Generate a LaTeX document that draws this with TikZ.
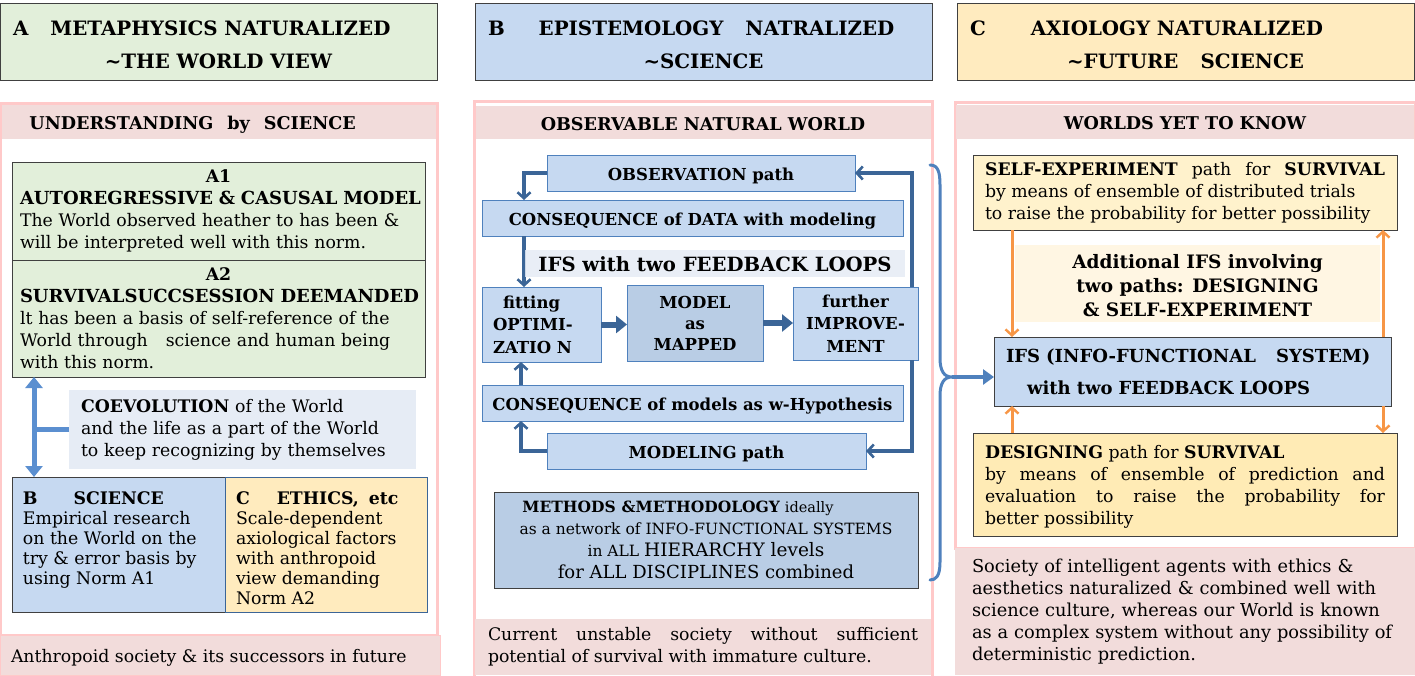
\documentclass[tikz,border=0pt]{standalone}
\usepackage{fontspec}
\setmainfont{DejaVu Serif}
\usetikzlibrary{arrows.meta,calc}
\definecolor{grn}{HTML}{E2EFDA}
\definecolor{blu}{HTML}{C6D9F1}
\definecolor{bluD}{HTML}{B9CDE5}
\definecolor{coev}{HTML}{E6ECF5}
\definecolor{ylwH}{HTML}{FFEBBF}
\definecolor{ylwE}{HTML}{FFEBBE}
\definecolor{ylwS}{HTML}{FFF2CC}
\definecolor{ylwD}{HTML}{FFEBB5}
\definecolor{ylwA}{HTML}{FFF6E3}
\definecolor{pnk}{HTML}{F2DCDB}
\definecolor{pnkB}{HTML}{FFC9C9}
\definecolor{darr}{HTML}{3B6597}
\definecolor{marr}{HTML}{5B8FD0}
\definecolor{brc}{HTML}{4F81BD}
\definecolor{org}{HTML}{F79646}
\definecolor{bdr}{HTML}{404040}
\newcommand\bodyf{\fontsize{17.3}{22}\selectfont}
\newcommand\titf{\fontsize{19.8}{33}\selectfont\bfseries}
\newcommand\bandf{\fontsize{17.6}{20}\selectfont\bfseries}
\newcommand\boxf{\fontsize{16.5}{22}\selectfont\bfseries}
\newcommand\firststrut{\rule{0pt}{21pt}}
\begin{document}
\begin{tikzpicture}[x=1pt,y=-1pt,
  every node/.style={inner sep=0pt,outer sep=0pt},
  bx/.style n args={2}{anchor=north west,minimum width=#1pt,minimum height=#2pt},
  hdr/.style={draw=bdr,line width=0.9pt,font=\titf},
  frm/.style={draw=pnkB,line width=3pt},
  band/.style={fill=pnk},
  oneline/.style={text height=15pt,text depth=0pt},
  dbox/.style={draw=bdr,line width=0.9pt},
  bbox/.style={draw=brc,line width=0.8pt,fill=blu},
  darrow/.style={draw=darr,line width=3.2pt,-{Straight Barb[length=6pt,width=13pt,line width=2.6pt]}},
  fatarrow/.style={draw=darr,line width=6pt,-{Triangle[length=11pt,width=17pt]}},
  oarrow/.style={draw=org,line width=3pt,-{Straight Barb[length=6pt,width=13pt,line width=2.4pt]}},
  coevarrow/.style={draw=marr,line width=5pt,{Triangle[length=11pt,width=17pt]}-{Triangle[length=11pt,width=17pt]}},
  brcarrow/.style={draw=brc,line width=3.5pt,-{Triangle[length=11pt,width=15pt]}}]
\useasboundingbox (0,0) rectangle (1415,675);
\fill[white] (0,0) rectangle (1415,675);

% ================= Column A =================
\node[bx={437}{77},hdr,fill=grn,text width=411pt,inner xsep=13pt,align=left] (hA) at (0,3)
  {\firststrut A\hspace{22pt}METAPHYSICS NATURALIZED\\\makebox[411pt]{\textasciitilde THE WORLD VIEW}};
\node[bx={437}{532},frm] (fA) at (0,103) {};
\node[bx={434}{34},band,font=\bandf,oneline] (bA) at (1.5,105)
  {\makebox[434pt][l]{\hspace{28pt}UNDERSTANDING\hspace{14pt}by\hspace{14pt}SCIENCE}};
\node[bx={413}{98},dbox,fill=grn,text width=397pt,inner xsep=8pt,align=left,font=\bodyf] (A1) at (12,162)
  {\makebox[397pt]{\textbf{A1}}\\\makebox[397pt][l]{\fontsize{18}{22}\selectfont\textbf{AUTOREGRESSIVE \& CASUSAL MODEL}}\\
   The World observed heather to has been \&\\will be interpreted well with this norm.};
\node[bx={413}{117},dbox,fill=grn,text width=397pt,inner xsep=8pt,align=left,font=\bodyf] (A2) at (12,260)
  {\makebox[397pt]{\textbf{A2}}\\\makebox[397pt][l]{\fontsize{18}{22}\selectfont\textbf{SURVIVALSUCCSESSION DEEMANDED}}\\
   lt has been a basis of self-reference of the\\World through\hspace{18pt}science and human being\\with this norm.};
\node[bx={347}{79},fill=coev,text width=323pt,inner xsep=12pt,align=left,font=\bodyf] (cv) at (69,390)
  {\textbf{COEVOLUTION} of the World\\and the life as a part of the World\\to keep recognizing by themselves};
\node[bx={213}{135},draw=bdr,line width=0.9pt,fill=blu] (BS) at (12,477) {};
\node[bx={202}{135},draw=darr,line width=0.9pt,fill=ylwE] (CE) at (225,477) {};
\node[anchor=north west,align=left,font={\fontsize{17.3}{20}\selectfont}] (BSt) at ($(BS.north west)+(11,15)$)
  {\textbf{B\hspace{36pt}SCIENCE}\\Empirical research\\on the World on the\\try \& error basis by\\using Norm A1};
\node[anchor=north west,align=left,font={\fontsize{17.3}{20}\selectfont}] (CEt) at ($(CE.north west)+(11,15)$)
  {\textbf{C\hspace{27pt}ETHICS,\hspace{10pt}etc}\\Scale-dependent\\axiological factors\\with anthropoid\\view demanding\\Norm A2};
\coordinate (ax) at (34,0);
\draw[coevarrow] (ax |- A2.south) -- (ax |- BS.north);
\draw[draw=marr,line width=5pt] (cv.west) -- (cv.west -| ax);
\node[bx={440}{40},band,draw=pnkB,line width=1pt,font=\bodyf,oneline] (bbA) at (0,635)
  {\makebox[440pt][l]{\hspace{11pt}Anthropoid society \& its successors in future}};

% ================= Column B =================
\node[bx={457}{77},hdr,fill=blu,text width=431pt,inner xsep=13pt,align=left] (hB) at (475,3)
  {\firststrut B\hspace{34pt}EPISTEMOLOGY\hspace{22pt}NATRALIZED\\\makebox[431pt]{\textasciitilde SCIENCE}};
\node[bx={458}{576},frm] (fB) at (474,101) {};
\node[bx={455}{33},band,font=\bandf,oneline] (bB) at (475.5,106) {OBSERVABLE NATURAL WORLD};
\node[bx={308}{36},bbox,font=\boxf,oneline] (OBS) at (547,155) {OBSERVATION path};
\node[bx={421}{36},bbox,font=\boxf,oneline] (CD) at (482,200) {CONSEQUENCE of DATA with modeling};
\coordinate (xL1) at (524,0);
\coordinate (xL2) at (521,0);
\coordinate (xR) at (912,0);
\node[bx={119}{75},bbox,text width=97pt,inner xsep=11pt,align=left,font={\fontsize{16.5}{22.5}\selectfont\bfseries}] (FIT) at (482,287)
  {\hspace{10pt}fitting\\OPTIMI-\\ZATIO N};
\draw[darrow] (xL1 |- CD.south) -- (xL1 |- FIT.north);
\node[bx={380}{27},fill=coev,fill opacity=0.85,text opacity=1,font={\fontsize{19.6}{20}\selectfont\bfseries},text height=16pt,text depth=1pt] (IFSB) at (525,250)
  {IFS with two FEEDBACK LOOPS};
\node[bx={136}{76},draw=brc,line width=0.8pt,fill=bluD,align=center,font={\fontsize{16.5}{21}\selectfont\bfseries}] (MOD) at (627,285)
  {MODEL\\as\\MAPPED};
\node[bx={125}{73},bbox,align=center,font={\fontsize{16.5}{22.5}\selectfont\bfseries}] (FUR) at (793,287)
  {further\\IMPROVE-\\MENT};
\node[bx={421}{36},bbox,font=\boxf,oneline] (CM) at (482,385) {CONSEQUENCE of models as w-Hypothesis};
\node[bx={319}{36},bbox,font=\boxf,oneline] (MP) at (547,433) {MODELING path};
\node[bx={424}{96},dbox,fill=bluD,align=center,font={\fontsize{15.5}{22}\selectfont}] (METH) at (494,492)
  {{\fontsize{15.5}{22}\selectfont\bfseries METHODS\hspace{6pt}\&METHODOLOGY} {\fontsize{14.5}{22}\selectfont ideally}\hspace*{56pt}\\
   as a network of INFO-FUNCTIONAL SYSTEMS\\
   in ALL {\fontsize{18.5}{22}\selectfont HIERARCHY levels}\\
   {\fontsize{18}{22}\selectfont for ALL DISCIPLINES combined}};
\node[bx={456}{56},band,text width=430pt,inner xsep=13pt,align=justify,font=\bodyf] (bbB) at (475,619)
  {Current unstable society without sufficient\linebreak potential of survival with immature culture.};
\draw[darrow] (OBS.west) -| (xL1 |- CD.north);
\draw[fatarrow] (FIT.east) -- (FIT.east -| MOD.west);
\draw[fatarrow] (MOD.east) -- (MOD.east -| FUR.west);
\draw[darrow] (xR |- FUR.north) |- (OBS.east);
\draw[darrow] (xR |- FUR.south) |- (MP.east);
\draw[darrow] (MP.west) -| (xL2 |- CM.south);
\draw[darrow] (xL2 |- CM.north) -- (xL2 |- FIT.south);

% brace
\coordinate (btip) at (952,377);
\draw[brc,line width=3pt,line cap=round]
  (930,165) .. controls (938,165) and (940,172) .. (940,185) -- (940,358)
  .. controls (940,371) and (944,377) .. (btip)
  .. controls (944,377) and (940,383) .. (940,396) -- (940,562)
  .. controls (940,576) and (936,580) .. (930,580);

% ================= Column C =================
\node[bx={457}{77},hdr,fill=ylwH,text width=431pt,inner xsep=13pt,align=left] (hC) at (957,3)
  {\firststrut C\hspace{45pt}AXIOLOGY NATURALIZED\\\makebox[431pt]{\textasciitilde FUTURE\hspace{22pt}SCIENCE}};
\node[bx={460}{446},frm] (fC) at (955,102) {};
\node[bx={458}{34},band,font=\bandf,oneline] (bC) at (956,105) {WORLDS YET TO KNOW};
\node[bx={424}{75},dbox,fill=ylwS,text width=400pt,inner xsep=12pt,align=justify,font=\bodyf] (SE) at (973,155)
  {\textbf{SELF-EXPERIMENT} path for \textbf{SURVIVAL}\linebreak by means of ensemble of distributed trials\\to raise the probability for better possibility};
\node[bx={365}{77},fill=ylwA,align=center,font={\fontsize{18.5}{24}\selectfont\bfseries}] (ADD) at (1015,245)
  {\rule{0pt}{19pt}Additional IFS involving\\two paths: DESIGNING\\\& SELF-EXPERIMENT};
\node[bx={397}{69},dbox,fill=blu,text width=373pt,inner xsep=12pt,align=left,font={\fontsize{18}{32}\selectfont\bfseries}] (IFS) at (994,337)
  {IFS (INFO-FUNCTIONAL\hspace{20pt}SYSTEM)\\\hspace{21pt}with two FEEDBACK LOOPS};
\node[bx={424}{103},dbox,fill=ylwD,text width=400pt,inner xsep=12pt,align=justify,font=\bodyf] (DES) at (973,433)
  {\rule{0pt}{17pt}\textbf{DESIGNING} path for \textbf{SURVIVAL}\\by means of ensemble of prediction and\linebreak evaluation to raise the probability for\linebreak better possibility};
\node[bx={460}{127},band,text width=426pt,inner xsep=17pt,align=left,font={\fontsize{17.8}{22}\selectfont}] (bbC) at (955,548)
  {Society of intelligent agents with ethics \&\\aesthetics naturalized \& combined well with\\science culture, whereas our World is known\\as a complex system without any possibility of\\deterministic prediction.};
\coordinate (xo1) at (1012,0);
\coordinate (xo2) at (1383,0);
\draw[oarrow] (xo1 |- SE.south) -- (xo1 |- IFS.north);
\draw[oarrow] (xo1 |- DES.north) -- (xo1 |- IFS.south);
\draw[oarrow] (xo2 |- IFS.north) -- (xo2 |- SE.south);
\draw[oarrow] (xo2 |- IFS.south) -- (xo2 |- DES.north);
\draw[brcarrow] (btip) -- (btip -| IFS.west);
\end{tikzpicture}
\end{document}
